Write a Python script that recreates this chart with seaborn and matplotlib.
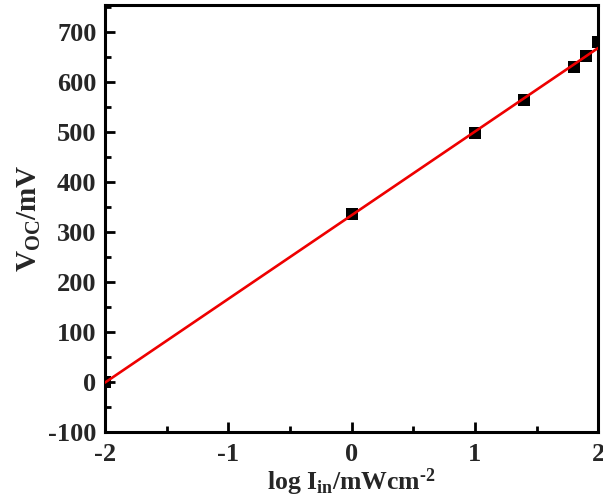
import matplotlib
matplotlib.use("Agg")
import matplotlib.pyplot as plt
import seaborn as sns
import pandas as pd
from matplotlib.ticker import MultipleLocator

log_intensity = [-2.0, 0.0, 1.0, 1.4, 1.8, 1.9, 2.0]
voc_mv = [0, 336, 498, 564, 630, 652, 680]

df = pd.DataFrame({"x": log_intensity, "y": voc_mv})

sns.set_style("white")
plt.rcParams["font.family"] = ["Liberation Serif", "DejaVu Serif"]
plt.rcParams["font.weight"] = "bold"
plt.rcParams["axes.unicode_minus"] = False
plt.rcParams["mathtext.fontset"] = "custom"
plt.rcParams["mathtext.rm"] = "Liberation Serif:bold"
plt.rcParams["mathtext.it"] = "Liberation Serif:bold"
plt.rcParams["mathtext.bf"] = "Liberation Serif:bold"

fig = plt.figure(figsize=(6.03, 4.99), dpi=100)
ax = fig.add_axes([0.174, 0.134, 0.818, 0.856])

sns.regplot(data=df, x="x", y="y", ax=ax, ci=None, truncate=True,
            marker="s",
            scatter_kws=dict(color="black", s=80, linewidths=0, alpha=1),
            line_kws=dict(color="#ee0000", lw=1.9, zorder=3))

ax.set_xlim(-2, 2)
ax.set_ylim(-100, 755)
ax.xaxis.set_major_locator(MultipleLocator(1))
ax.xaxis.set_minor_locator(MultipleLocator(0.5))
ax.yaxis.set_major_locator(MultipleLocator(100))
ax.yaxis.set_minor_locator(MultipleLocator(50))
ax.tick_params(which="both", direction="in", bottom=True, left=True,
               top=False, right=False, width=2, labelsize=19, color="black")
ax.tick_params(which="major", length=7)
ax.tick_params(axis="x", which="major", pad=8)
ax.tick_params(axis="y", which="major", pad=6)
ax.tick_params(which="minor", length=4)
for lab in ax.get_xticklabels() + ax.get_yticklabels():
    lab.set_fontweight("bold")
for sp in ax.spines.values():
    sp.set_linewidth(2.2)
    sp.set_color("black")

ax.set_xlabel(r"log I$_{\mathrm{in}}$/mWcm$^{\text{-2}}$", fontsize=18.5, fontweight="bold", labelpad=0)
ax.set_ylabel(r"V$_{\mathrm{OC}}$/mV", fontsize=21, fontweight="bold", labelpad=4)

fig.savefig("out.png", dpi=100)
